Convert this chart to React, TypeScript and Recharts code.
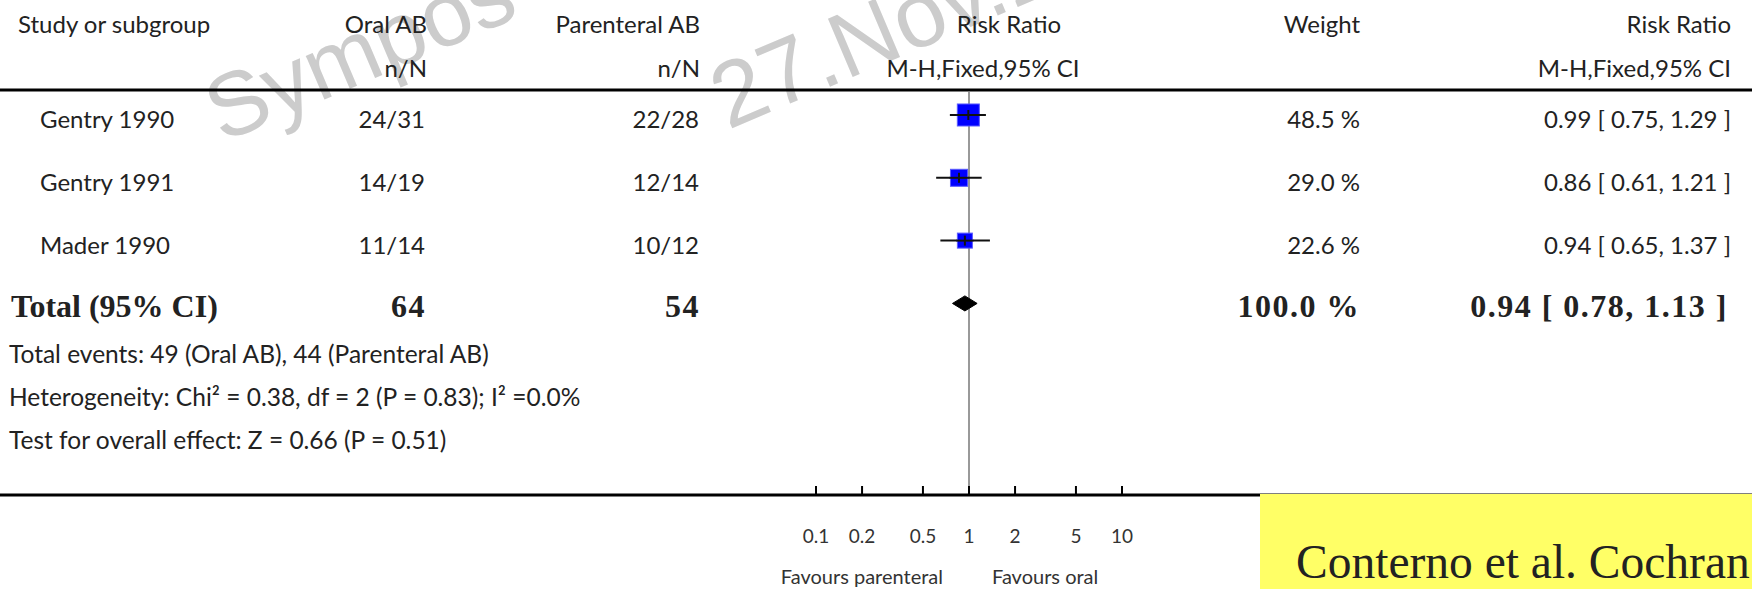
import React from 'react';
import { ComposedChart, Scatter, XAxis, YAxis, ErrorBar, ReferenceLine } from 'recharts';

// ---------- data ----------
const studies = ['Gentry 1990', 'Gentry 1991', 'Mader 1990'];
const oralEvents = ['24/31', '14/19', '11/14'];
const parenteralEvents = ['22/28', '12/14', '10/12'];
const riskRatio = [0.99, 0.86, 0.94];
const ciLow = [0.75, 0.61, 0.65];
const ciHigh = [1.29, 1.21, 1.37];
const weights = [48.5, 29.0, 22.6];
const weightLabels = ['48.5 %', '29.0 %', '22.6 %'];
const rrLabels = ['0.99 [ 0.75, 1.29 ]', '0.86 [ 0.61, 1.21 ]', '0.94 [ 0.65, 1.37 ]'];

const totalRR = 0.94;
const totalLow = 0.78;
const totalHigh = 1.13;
const totalLabels = ['Total (95% CI)', '64', '54', '100.0 %', '0.94 [ 0.78, 1.13 ]'];

const headerTop = ['Study or subgroup', 'Oral AB', 'Parenteral AB', 'Risk Ratio', 'Weight', 'Risk Ratio'];
const headerSub = ['n/N', 'n/N', 'M-H,Fixed,95% CI', 'M-H,Fixed,95% CI'];

const footnotes = [
  'Total events: 49 (Oral AB), 44 (Parenteral AB)',
  'Heterogeneity: Chi\u00B2 = 0.38, df = 2 (P = 0.83); I\u00B2 =0.0%',
  'Test for overall effect: Z = 0.66 (P = 0.51)',
];

const axisTicks = [0.1, 0.2, 0.5, 1, 2, 5, 10];
const tickLabels = ['0.1', '0.2', '0.5', '1', '2', '5', '10'];
const favourLabels = ['Favours parenteral', 'Favours oral'];
const sourceLabel = 'Conterno et al. Cochran';
const watermarkLines = ['Sympos', '27.Nov.2'];

// ---------- layout ----------
const W = 1752;
const H = 589;
const TOP_RULE = 90;
const BOTTOM_RULE = 495;
const ROW0 = 128;
const ROW_STEP = 62.8;
const SQUARE_K = 3.16;
const SANS = 'Lato, "Open Sans", sans-serif';
const SERIF = '"Liberation Serif", "Times New Roman", serif';
const INK = '#222';

const studyPoints = studies.map((s, i) => ({ x: riskRatio[i], y: i, w: weights[i] }));
const ciPoints = studies.map((s, i) => ({
  x: riskRatio[i],
  y: i,
  w: weights[i],
  err: [riskRatio[i] - ciLow[i], ciHigh[i] - riskRatio[i]],
}));
const DH = 0.12;
const diamondPoints = [
  { x: totalLow, y: 3 },
  { x: totalRR, y: 3 - DH },
  { x: totalHigh, y: 3 },
  { x: totalRR, y: 3 + DH },
];

const SquareShape = (props: any) => {
  const { cx, cy, payload } = props;
  const side = SQUARE_K * Math.sqrt(payload.w);
  return (
    <rect
      x={cx - side / 2}
      y={cy - side / 2}
      width={side}
      height={side}
      fill="#0000ff"
      stroke="#5a5aff"
      strokeWidth={1}
    />
  );
};

const TickMark = (props: any) => {
  const { cx, cy, payload } = props;
  const half = (SQUARE_K * Math.sqrt(payload.w)) / 2 + 1;
  return (
    <g>
      <line x1={cx - half} x2={cx + half} y1={cy} y2={cy} stroke="#111" strokeWidth={2} />
      <line x1={cx} x2={cx} y1={cy - 5} y2={cy + 5} stroke="#111" strokeWidth={2} />
    </g>
  );
};

const NoDot = () => <g />;

const DiamondLine = (props: any) => {
  const pts = (props.points || []).map((p: any) => `${p.x},${p.y}`).join(' ');
  return <polygon points={pts} fill="#000" stroke="#000" strokeWidth={1} />;
};

const AxisTick = (props: any) => {
  const { x, payload } = props;
  const idx = axisTicks.indexOf(payload.value);
  return (
    <g>
      <line x1={x} x2={x} y1={BOTTOM_RULE - 9} y2={BOTTOM_RULE} stroke="#000" strokeWidth={2} />
      <text x={x} y={543} textAnchor="middle" fontFamily={SANS} fontSize={19} fill="#333">
        {idx >= 0 ? tickLabels[idx] : ''}
      </text>
    </g>
  );
};

const T = (p: any) => (
  <text
    x={p.x}
    y={p.y}
    textAnchor={p.a || 'start'}
    fontFamily={p.f || SANS}
    fontSize={p.s || 24}
    fontWeight={p.b ? 'bold' : 'normal'}
    letterSpacing={p.ls || 0}
    fill={INK}
  >
    {p.children}
  </text>
);

export default function App() {
  const rowY = (i: number) => ROW0 + ROW_STEP * i;
  return (
    <div style={{ position: 'absolute', left: 0, top: 0, width: W, height: H, background: '#fff', overflow: 'hidden' }}>
      {/* watermark */}
      <svg width={W} height={H} style={{ position: 'absolute', left: 0, top: 0 }}>
        <text
          x={222}
          y={143}
          transform="rotate(-23 222 143)"
          fontFamily='"Liberation Sans", Arial, sans-serif'
          fontSize={90}
          fill="#cccccc"
        >
          {watermarkLines[0]}
        </text>
        <text
          x={728}
          y={130}
          transform="rotate(-23 728 130)"
          fontFamily='"Liberation Sans", Arial, sans-serif'
          fontSize={92}
          fill="#cccccc"
        >
          {watermarkLines[1]}
        </text>
      </svg>

      {/* table text and rules */}
      <svg width={W} height={H} style={{ position: 'absolute', left: 0, top: 0 }}>
        <line x1={0} x2={W} y1={TOP_RULE} y2={TOP_RULE} stroke="#000" strokeWidth={3} />
        <line x1={0} x2={W} y1={BOTTOM_RULE} y2={BOTTOM_RULE} stroke="#000" strokeWidth={3} />

        <T x={18} y={33}>{headerTop[0]}</T>
        <T x={427} y={33} a="end">{headerTop[1]}</T>
        <T x={700} y={33} a="end">{headerTop[2]}</T>
        <T x={1009} y={33} a="middle">{headerTop[3]}</T>
        <T x={1360} y={33} a="end">{headerTop[4]}</T>
        <T x={1731} y={33} a="end">{headerTop[5]}</T>

        <T x={427} y={77} a="end">{headerSub[0]}</T>
        <T x={700} y={77} a="end">{headerSub[1]}</T>
        <T x={983} y={77} a="middle">{headerSub[2]}</T>
        <T x={1731} y={77} a="end">{headerSub[3]}</T>

        {studies.map((s, i) => (
          <g key={s}>
            <T x={40} y={rowY(i)}>{s}</T>
            <T x={425} y={rowY(i)} a="end">{oralEvents[i]}</T>
            <T x={699} y={rowY(i)} a="end">{parenteralEvents[i]}</T>
            <T x={1360} y={rowY(i)} a="end">{weightLabels[i]}</T>
            <T x={1731} y={rowY(i)} a="end">{rrLabels[i]}</T>
          </g>
        ))}

        <T x={11} y={317} f={SERIF} s={32} b>{totalLabels[0]}</T>
        <T x={426} y={317} f={SERIF} s={32} b a="end" ls={1.5}>{totalLabels[1]}</T>
        <T x={700} y={317} f={SERIF} s={32} b a="end" ls={1.5}>{totalLabels[2]}</T>
        <T x={1360} y={317} f={SERIF} s={32} b a="end" ls={1.5}>{totalLabels[3]}</T>
        <T x={1728} y={317} f={SERIF} s={32} b a="end" ls={1.5}>{totalLabels[4]}</T>

        {footnotes.map((f, i) => (
          <T key={f} x={9} y={363 + 43 * i} s={24.5}>{f}</T>
        ))}

        <text x={943} y={584} textAnchor="end" fontFamily={SANS} fontSize={20} fill="#333">{favourLabels[0]}</text>
        <text x={992} y={584} textAnchor="start" fontFamily={SANS} fontSize={20} fill="#333">{favourLabels[1]}</text>
      </svg>

      {/* forest plot */}
      <div style={{ position: 'absolute', left: 0, top: 0 }}>
        <ComposedChart width={W} height={H} margin={{ top: TOP_RULE + 2, right: 477, bottom: 0, left: 663 }}>
          <XAxis
            type="number"
            dataKey="x"
            scale="log"
            domain={[0.01, 100]}
            allowDataOverflow
            ticks={axisTicks}
            interval={0}
            height={H - BOTTOM_RULE}
            axisLine={false}
            tickLine={false}
            tick={<AxisTick />}
          />
          <YAxis type="number" dataKey="y" domain={[-0.366, 6.05]} reversed hide allowDataOverflow />
          <ReferenceLine x={1} stroke="#999" strokeWidth={2} />
          <Scatter data={studyPoints} shape={<SquareShape />} isAnimationActive={false} />
          <Scatter data={ciPoints} shape={<TickMark />} isAnimationActive={false}>
            <ErrorBar dataKey="err" direction="x" width={0} stroke="#111" strokeWidth={2} isAnimationActive={false} />
          </Scatter>
          <Scatter data={diamondPoints} shape={<NoDot />} line={DiamondLine} isAnimationActive={false} />
        </ComposedChart>
      </div>

      {/* source box */}
      <svg width={W} height={H} style={{ position: 'absolute', left: 0, top: 0 }}>
        <rect x={1260} y={494} width={W - 1260} height={H - 494} fill="#ffff66" />
        <text x={1296} y={578} fontFamily={SERIF} fontSize={47.5} fill="#222">{sourceLabel}</text>
      </svg>
    </div>
  );
}
